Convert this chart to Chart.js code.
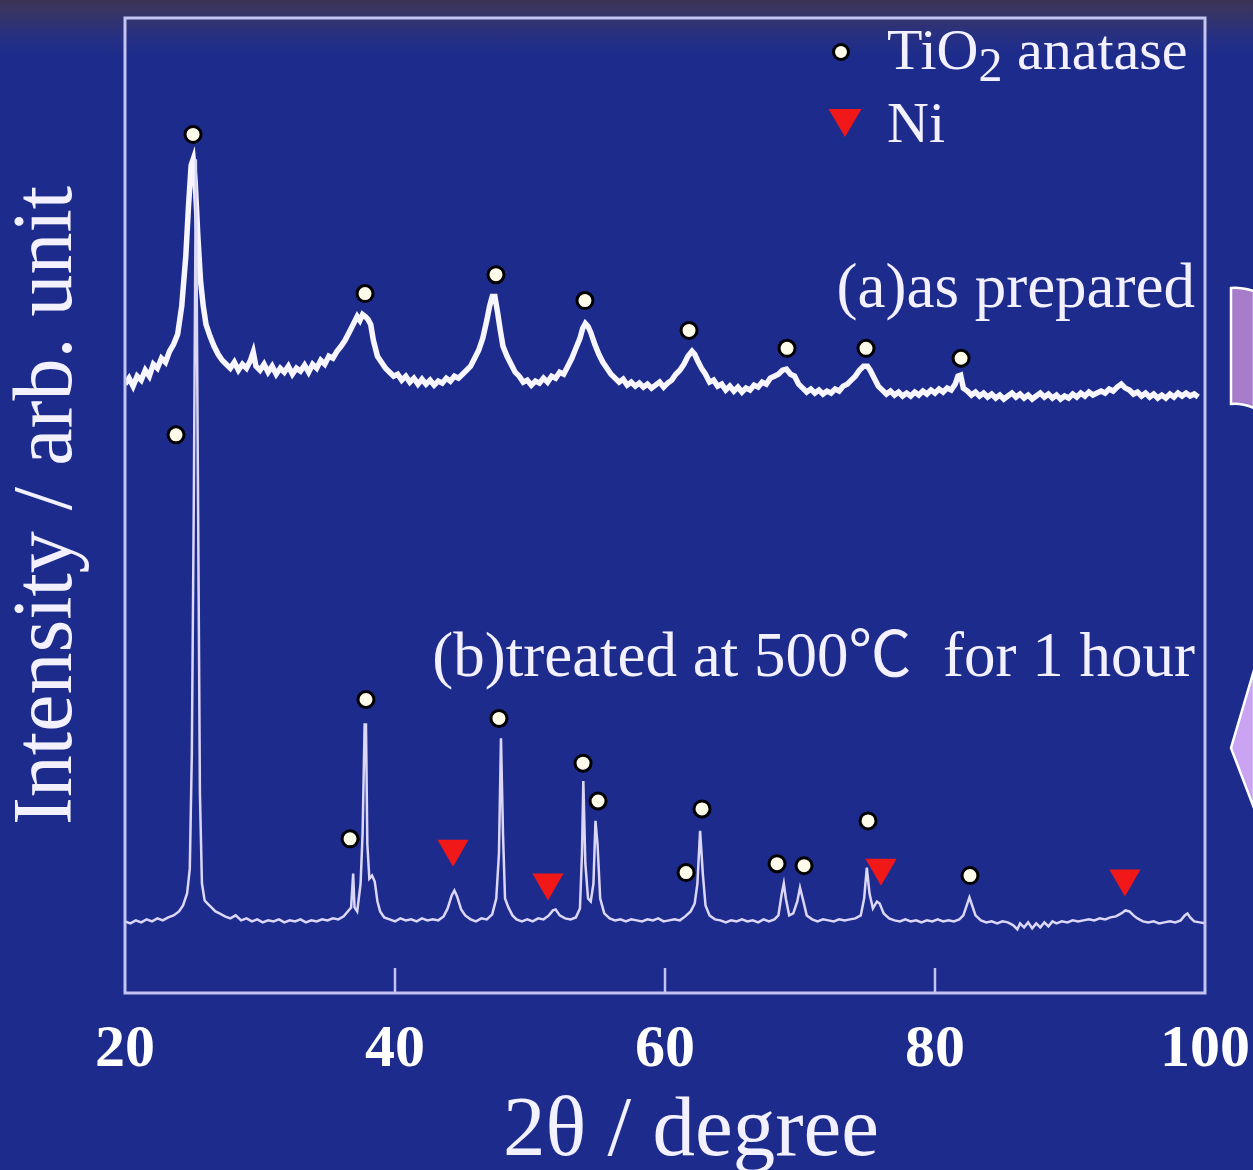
<!DOCTYPE html>
<html>
<head>
<meta charset="utf-8">
<script src="https://cdn.jsdelivr.net/npm/chart.js@4.4.1/dist/chart.umd.min.js"></script>
<style>
  html, body { margin: 0; padding: 0; }
  body {
    width: 1253px; height: 1170px; position: relative; overflow: hidden;
    background: linear-gradient(to bottom, #3c3456 0px, #3a3560 8px, #263084 38px, #1c2b8c 58px, #1c2b8c 100%);
  }
  #xrd { position: absolute; left: 0; top: 0; }
  #overlay { position: absolute; left: 0; top: 0; pointer-events: none; }
  #overlay text { font-family: "Liberation Serif", "Noto Sans CJK JP", serif; fill: #f3f1ff; }
</style>
</head>
<body>
<canvas id="xrd" width="1253" height="1170"></canvas>
<svg id="overlay" width="1253" height="1170" xmlns="http://www.w3.org/2000/svg">
  <!-- 범례 -->
  <circle cx="841" cy="52" r="7.5" fill="#fffbea" stroke="#000" stroke-width="3"/>
  <text x="887" y="69" font-size="58">TiO<tspan dy="12" font-size="48">2</tspan><tspan dy="-12"> anatase</tspan></text>
  <polygon points="828.5,109 861.5,109 845,137" fill="#f01818"/>
  <text x="887" y="142" font-size="58">Ni</text>
  <!-- 시료 라벨 -->
  <text x="1195" y="307" font-size="63" text-anchor="end">(a)as prepared</text>
  <text x="1195" y="676" font-size="63" text-anchor="end" style="white-space:pre">(b)treated at 500℃  for 1 hour</text>
  <!-- x축 제목 -->
  <text x="691" y="1155" font-size="85" text-anchor="middle">2θ / degree</text>
  <!-- 오른쪽 슬라이드 장식 -->
  <path d="M1254,291 Q1240,287 1231,288 L1231,404 Q1242,403 1254,408 Z" fill="#a67ccb" stroke="#ffffff" stroke-width="2.5"/>
  <polygon points="1254,670 1231,748 1254,808" fill="#caa3f2" stroke="#ffffff" stroke-width="2.5"/>
</svg>
<script>
// (a) 합성 직후
const angleA = [
  20.0, 20.3, 20.6, 20.9, 21.2, 21.5, 21.8, 22.1, 22.4, 22.7,
  23.0, 23.3, 23.6, 23.9, 24.2, 24.5, 24.7, 24.9, 25.05, 25.2,
  25.4, 25.6, 25.8, 26.0, 26.3, 26.6, 26.9, 27.2, 27.5, 27.8,
  28.1, 28.4, 28.7, 29.0, 29.3, 29.5, 29.7, 30.0, 30.3, 30.6,
  30.9, 31.2, 31.5, 31.8, 32.1, 32.4, 32.7, 33.0, 33.3, 33.6,
  33.9, 34.2, 34.5, 34.8, 35.1, 35.4, 35.7, 36.0, 36.3, 36.6,
  36.9, 37.2, 37.4, 37.6, 37.8, 38.0, 38.2, 38.4, 38.7, 39.0,
  39.3, 39.6, 39.9, 40.2, 40.5, 40.8, 41.1, 41.4, 41.7, 42.0,
  42.3, 42.6, 42.9, 43.2, 43.5, 43.8, 44.1, 44.4, 44.7, 45.0,
  45.3, 45.6, 45.9, 46.2, 46.5, 46.8, 47.0, 47.2, 47.4, 47.6,
  47.8, 48.0, 48.3, 48.6, 48.9, 49.2, 49.5, 49.8, 50.1, 50.4,
  50.7, 51.0, 51.3, 51.6, 51.9, 52.2, 52.5, 52.8, 53.1, 53.4,
  53.7, 53.9, 54.1, 54.3, 54.5, 54.8, 55.1, 55.4, 55.7, 56.0,
  56.3, 56.6, 56.9, 57.2, 57.5, 57.8, 58.1, 58.4, 58.7, 59.0,
  59.3, 59.6, 59.9, 60.2, 60.5, 60.8, 61.1, 61.4, 61.7, 62.0,
  62.2, 62.4, 62.7, 63.0, 63.3, 63.6, 63.9, 64.2, 64.5, 64.8,
  65.1, 65.4, 65.7, 66.0, 66.3, 66.6, 66.9, 67.2, 67.5, 67.8,
  68.1, 68.4, 68.7, 69.0, 69.3, 69.6, 69.9, 70.2, 70.5, 70.8,
  71.1, 71.4, 71.7, 72.0, 72.3, 72.6, 72.9, 73.2, 73.5, 73.8,
  74.1, 74.4, 74.7, 75.0, 75.2, 75.5, 75.8, 76.1, 76.4, 76.7,
  77.0, 77.3, 77.6, 77.9, 78.2, 78.5, 78.8, 79.1, 79.4, 79.7,
  80.0, 80.3, 80.6, 80.9, 81.2, 81.5, 81.7, 81.9, 82.1, 82.4,
  82.7, 83.0, 83.3, 83.6, 83.9, 84.2, 84.5, 84.8, 85.1, 85.4,
  85.7, 86.0, 86.3, 86.6, 86.9, 87.2, 87.5, 87.8, 88.1, 88.4,
  88.7, 89.0, 89.3, 89.6, 89.9, 90.2, 90.5, 90.8, 91.1, 91.4,
  91.7, 92.0, 92.3, 92.6, 92.9, 93.2, 93.5, 93.8, 94.1, 94.4,
  94.7, 95.0, 95.3, 95.6, 95.9, 96.2, 96.5, 96.8, 97.1, 97.4,
  97.7, 98.0, 98.3, 98.6, 98.9, 99.2, 99.5
];
const intensityA = [
  612, 618, 610, 620, 616, 626, 620, 632, 628, 638,
  634, 645, 652, 662, 690, 740, 790, 832, 838, 815,
  760, 715, 690, 672, 660, 650, 642, 636, 632, 628,
  634, 626, 632, 628, 636, 644, 630, 626, 632, 624,
  630, 622, 628, 624, 630, 622, 628, 625, 631, 624,
  632, 628, 636, 632, 640, 638, 645, 650, 656, 664,
  672, 680, 676, 682, 680, 677, 672, 656, 640, 634,
  628, 624, 620, 622, 616, 620, 614, 618, 612, 617,
  612, 616, 611, 615, 613, 618, 615, 620, 618, 622,
  626, 630, 638, 646, 658, 676, 690, 700, 700, 684,
  666, 650, 640, 632, 624, 620, 614, 616, 611, 615,
  613, 618, 614, 620, 618, 624, 622, 630, 638, 648,
  658, 668, 673, 670, 664, 652, 642, 634, 628, 622,
  618, 614, 617, 611, 614, 610, 613, 609, 612, 608,
  611, 614, 609, 613, 616, 622, 626, 632, 640, 645,
  642, 636, 628, 622, 614, 616, 610, 612, 606, 610,
  605, 609, 604, 608, 606, 611, 609, 614, 612, 618,
  620, 622, 626, 627, 622, 620, 612, 608, 604, 607,
  603, 606, 602, 605, 603, 607, 605, 610, 612, 616,
  620, 626, 630, 630, 626, 618, 610, 606, 602, 605,
  601, 604, 600, 603, 600, 604, 601, 605, 602, 606,
  603, 607, 604, 608, 606, 612, 620, 621, 608, 605,
  601, 604, 600, 603, 599, 602, 598, 601, 597, 600,
  603, 599, 602, 598, 601, 597, 600, 603, 599, 602,
  598, 601, 597, 600, 598, 602, 599, 603, 600, 604,
  601, 603, 605, 603, 607, 605, 609, 612, 608, 606,
  602, 604, 600, 603, 599, 602, 598, 601, 598, 602,
  599, 603, 600, 603, 600, 602, 599
];

// (b) 500℃ 1시간 열처리
const angleB = [
  20.0, 20.4, 20.8, 21.2, 21.6, 22.0, 22.4, 22.8, 23.2, 23.6,
  24.0, 24.3, 24.6, 24.8, 24.95, 25.1, 25.25, 25.4, 25.55, 25.7,
  25.9, 26.1, 26.4, 26.7, 27.0, 27.4, 27.8, 28.2, 28.6, 29.0,
  29.4, 29.8, 30.2, 30.6, 31.0, 31.4, 31.8, 32.2, 32.6, 33.0,
  33.4, 33.8, 34.2, 34.6, 35.0, 35.4, 35.8, 36.2, 36.5, 36.75,
  36.9, 37.0, 37.2, 37.45, 37.6, 37.75, 37.85, 37.95, 38.1, 38.3,
  38.5, 38.7, 38.9, 39.2, 39.6, 40.0, 40.4, 40.8, 41.2, 41.6,
  42.0, 42.4, 42.8, 43.2, 43.6, 43.9, 44.2, 44.4, 44.6, 44.9,
  45.2, 45.6, 46.0, 46.4, 46.8, 47.2, 47.5, 47.7, 47.85, 48.0,
  48.15, 48.4, 48.7, 49.0, 49.4, 49.8, 50.2, 50.6, 51.0, 51.4,
  51.7, 51.9, 52.2, 52.6, 53.0, 53.4, 53.7, 53.85, 53.95, 54.1,
  54.3, 54.5, 54.7, 54.85, 55.0, 55.2, 55.5, 55.9, 56.3, 56.7,
  57.1, 57.5, 57.9, 58.3, 58.7, 59.1, 59.5, 59.9, 60.3, 60.7,
  61.1, 61.5, 61.9, 62.2, 62.4, 62.6, 62.8, 63.0, 63.3, 63.7,
  64.1, 64.5, 64.9, 65.3, 65.7, 66.1, 66.5, 66.9, 67.3, 67.7,
  68.1, 68.4, 68.65, 68.8, 68.95, 69.2, 69.5, 69.8, 70.0, 70.2,
  70.5, 70.9, 71.3, 71.7, 72.1, 72.5, 72.9, 73.3, 73.7, 74.1,
  74.5, 74.75, 74.95, 75.15, 75.4, 75.7, 75.9, 76.2, 76.6, 77.0,
  77.4, 77.8, 78.2, 78.6, 79.0, 79.4, 79.8, 80.2, 80.6, 81.0,
  81.4, 81.8, 82.1, 82.35, 82.55, 82.75, 83.0, 83.4, 83.8, 84.2,
  84.6, 85.0, 85.4, 85.8, 86.1, 86.3, 86.6, 86.9, 87.2, 87.5,
  87.8, 88.1, 88.4, 88.7, 89.0, 89.4, 89.8, 90.2, 90.6, 91.0,
  91.4, 91.8, 92.2, 92.6, 93.0, 93.4, 93.8, 94.1, 94.4, 94.7,
  95.0, 95.4, 95.8, 96.2, 96.6, 97.0, 97.4, 97.8, 98.2, 98.5,
  98.7, 98.9, 99.2, 99.6, 100.0
];
const intensityB = [
  72, 70, 73, 71, 74, 72, 75, 73, 76, 78,
  82, 88, 100, 125, 240, 500, 838, 520, 200, 110,
  93, 90, 86, 82, 80, 77, 75, 78, 73, 75,
  72, 74, 71, 73, 72, 74, 71, 73, 72, 74,
  71, 73, 72, 74, 73, 75, 74, 77, 82, 86,
  120, 86, 82, 110, 160, 270, 270, 150, 115, 118,
  112, 92, 82, 76, 74, 72, 75, 73, 74, 72,
  75, 73, 74, 73, 77, 85, 98, 103, 97, 84,
  78, 74, 72, 75, 74, 79, 95, 140, 256, 160,
  95, 86, 78, 74, 72, 74, 72, 75, 74, 78,
  83, 84, 78, 75, 74, 76, 85, 140, 213, 130,
  95, 92, 110, 173, 150, 95, 80, 75, 73, 74,
  72, 74, 73, 72, 74, 73, 75, 72, 73, 74,
  73, 77, 82, 90, 110, 163, 120, 88, 78, 74,
  73, 71, 73, 72, 74, 72, 73, 71, 74, 72,
  74, 78, 100, 110, 95, 78, 80, 92, 106, 95,
  78, 74, 72, 74, 73, 72, 74, 73, 74, 75,
  78, 95, 126, 100, 85, 92, 90, 80, 75, 73,
  72, 74, 72, 73, 71, 73, 72, 74, 72, 73,
  72, 74, 78, 88, 96, 88, 78, 73, 71, 72,
  70, 72, 71, 68, 64, 70, 66, 71, 65, 70,
  66, 71, 67, 72, 70, 72, 71, 73, 72, 73,
  74, 73, 75, 74, 76, 77, 80, 83, 82, 78,
  75, 72, 71, 72, 70, 71, 72, 71, 73, 78,
  80, 76, 72, 71, 70
];

// 피크 표시 (아나타제 ○, Ni ▼)
const anataseAngleA = [25.04, 37.78, 47.48, 54.07, 61.78, 69.04, 74.89, 81.93];
const anataseMarkA = [863, 703, 722, 696, 666, 648, 648, 638];
const anataseAngleB = [23.78, 36.67, 37.85, 47.70, 53.93, 55.04, 61.56, 62.74, 68.30, 70.30, 75.04, 82.59];
const anataseMarkB = [561, 155, 295, 276, 231, 193, 121, 185, 130, 128, 173, 118];
const niAngle = [44.30, 51.33, 76.0, 94.07];
const niMark = [145, 111, 126, 115];

const toPoints = (xs, ys) => xs.map((x, i) => ({ x: x, y: ys[i] }));

// 테두리 + 안쪽 눈금
const framePlugin = {
  id: "frame",
  afterDatasetsDraw(chart) {
    const { ctx, chartArea } = chart;
    const xs = chart.scales.x;
    ctx.save();
    ctx.strokeStyle = "#c4c4f2";
    ctx.lineWidth = 3;
    ctx.strokeRect(chartArea.left, chartArea.top, chartArea.right - chartArea.left, chartArea.bottom - chartArea.top);
    ctx.lineWidth = 2.5;
    xs.ticks.forEach((t) => {
      if (t.value <= xs.min || t.value >= xs.max) return;
      const px = xs.getPixelForValue(t.value);
      ctx.beginPath();
      ctx.moveTo(px, chartArea.bottom);
      ctx.lineTo(px, chartArea.bottom - 25);
      ctx.stroke();
    });
    ctx.restore();
  },
};

const ctx = document.getElementById("xrd").getContext("2d");
let xrdChart = new Chart(ctx, {
  type: "scatter",
  data: {
    datasets: [
      {
        label: "TiO2 anatase (a)",
        data: toPoints(anataseAngleA, anataseMarkA),
        pointStyle: "circle",
        pointRadius: 8,
        pointBorderWidth: 3,
        pointBackgroundColor: "#fffbea",
        pointBorderColor: "#000000",
      },
      {
        label: "TiO2 anatase (b)",
        data: toPoints(anataseAngleB, anataseMarkB),
        pointStyle: "circle",
        pointRadius: 8,
        pointBorderWidth: 3,
        pointBackgroundColor: "#fffbea",
        pointBorderColor: "#000000",
      },
      {
        label: "Ni",
        data: toPoints(niAngle, niMark),
        pointStyle: "triangle",
        rotation: 180,
        pointRadius: 18,
        pointBorderWidth: 0,
        pointBackgroundColor: "#f01818",
        pointBorderColor: "#f01818",
      },
      {
        label: "(b)",
        data: toPoints(angleB, intensityB),
        showLine: true,
        borderColor: "#dcd7f7",
        borderWidth: 2.5,
        pointRadius: 0,
        tension: 0,
      },
      {
        label: "(a)",
        data: toPoints(angleA, intensityA),
        showLine: true,
        borderColor: "#f7f6ff",
        borderWidth: 5.5,
        pointRadius: 0,
        tension: 0,
      },
    ],
  },
  options: {
    responsive: false,
    animation: false,
    devicePixelRatio: 1,
    layout: { padding: { left: 3, right: 48, top: 13, bottom: 63 } },
    scales: {
      x: {
        type: "linear",
        min: 20,
        max: 100,
        grid: { display: false, drawTicks: false },
        border: { display: false },
        ticks: {
          stepSize: 20,
          autoSkip: false,
          maxRotation: 0,
          padding: 3,
          color: "#ffffff",
          font: { family: "Liberation Serif", size: 60, weight: "bold", lineHeight: 1.8 },
        },
      },
      y: {
        min: 0,
        max: 980,
        grid: { display: false, drawTicks: false },
        border: { display: false },
        ticks: { display: false },
        title: {
          display: true,
          text: "Intensity / arb. unit",
          color: "#f3f1ff",
          padding: { top: 0, bottom: 29.6 },
          font: { family: "Liberation Serif", size: 84, lineHeight: 1.1 },
        },
      },
    },
    plugins: {
      legend: { display: false },
      tooltip: { enabled: false },
    },
  },
  plugins: [framePlugin],
});
</script>
</body>
</html>
